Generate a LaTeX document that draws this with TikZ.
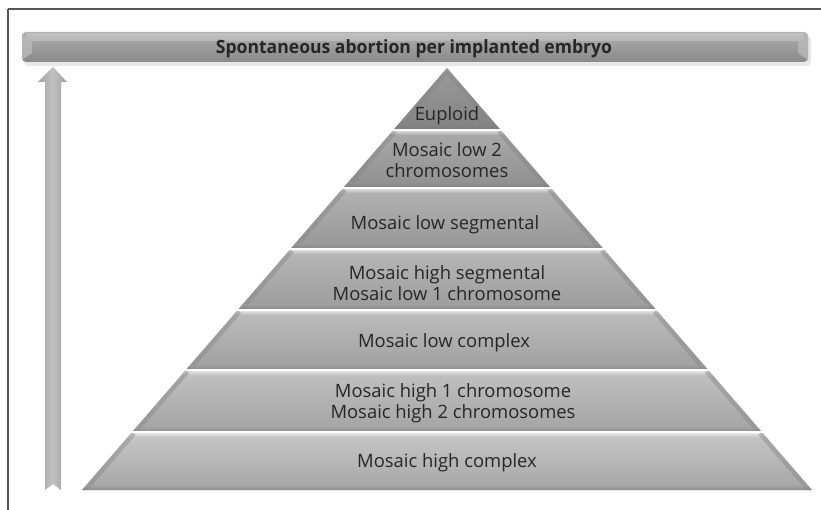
\documentclass[tikz,border=0pt]{standalone}
\usepackage{fontspec}
\setmainfont{Open Sans}
\newfontfamily\titlefont[FakeStretch=0.96]{Open Sans}
\definecolor{txt}{HTML}{262626}
\definecolor{framec}{HTML}{555555}
\tikzset{
  bandtext/.style={text=txt, align=center, font=\fontsize{18.4}{20.5}\selectfont, inner sep=0pt},
  titletext/.style={text=txt, font=\titlefont\fontsize{18.3}{20}\selectfont\bfseries, inner sep=0pt},
}
\begin{document}
\begin{tikzpicture}[x=1pt,y=-1pt]
\useasboundingbox (0,0) rectangle (821,510);
% frame
\draw[framec, line width=1.2pt] (8,9) -- (822,9);
\draw[framec, line width=1.2pt] (8,9) -- (8,511);
% title bar
\fill[gray!30, opacity=0.6, rounded corners=4pt] (24,36) rectangle (811,66);
\shade[rounded corners=4pt, top color=gray!62, bottom color=gray!92, middle color=gray!78] (22,32) rectangle (808,62);
\fill[white, opacity=0.22] (26,33) -- (804,33) -- (804,41) -- (26,41) -- cycle;
\fill[gray!55, opacity=0.8] (22,34) -- (32,42) -- (32,53) -- (22,60) -- cycle;
\fill[gray!55, opacity=0.8] (808,34) -- (798,42) -- (798,53) -- (808,60) -- cycle;
\node[titletext] (title) at (414,49) {Spontaneous abortion per implanted embryo};
% arrow
\shade[left color=gray!72, right color=gray!78, middle color=gray!48]
  (45,490) -- (45,82) -- (38,82) -- (53,67) -- (67,82) -- (61,82) -- (61,490) -- (53,484) -- cycle;
% pyramid bands
\foreach \t/\b/\ct/\cb in {68/130/78/98, 130/188/66/88, 188/249/60/82, 249/310/56/78, 310/370/52/75, 370/432/48/72, 432/490/44/70} {
  \pgfmathsetmacro\lt{447-0.86493*(\t-68)}
  \pgfmathsetmacro\rt{447+0.86493*(\t-68)}
  \pgfmathsetmacro\lb{447-0.86493*(\b-68)}
  \pgfmathsetmacro\rb{447+0.86493*(\b-68)}
  \pgfmathsetmacro\th{\t+5}
  \pgfmathsetmacro\bh{\b-5}
  \begin{scope}
    \clip (\lt,\t) -- (\rt,\t) -- (\rb,\b) -- (\lb,\b) -- cycle;
    \shade[top color=gray!\ct, bottom color=gray!\cb] (\lb,\t) rectangle (\rb,\b);
    \shade[top color=white, bottom color=gray!\ct, opacity=0.7] (\lb,\t) rectangle (\rb,\th);
    \draw[gray!95, line width=9pt, opacity=0.45] (\lt,\t) -- (\lb,\b);
    \draw[gray!95, line width=9pt, opacity=0.45] (\rt,\t) -- (\rb,\b);
    \shade[top color=gray!\cb, bottom color=gray!110, opacity=0.45] (\lb,\bh) rectangle (\rb,\b);
  \end{scope}
}
\foreach \y in {130,188,249,310,370,432} {
  \draw[white, line width=1.3pt] (78,\y) -- (816,\y);
}
% band texts
\node[bandtext] (b1) at (447,116) {Euploid};
\node[bandtext] (b2) at (447,160) {Mosaic low 2\\chromosomes};
\node[bandtext] (b3) at (445,225) {Mosaic low segmental};
\node[bandtext] (b4) at (447,283) {Mosaic high segmental\\Mosaic low 1 chromosome};
\node[bandtext] (b5) at (444,343) {Mosaic low complex};
\node[bandtext] (b6) at (453,403) {Mosaic high 1 chromosome\\Mosaic high 2 chromosomes};
\node[bandtext] (b7) at (447,463) {Mosaic high complex};
\end{tikzpicture}
\end{document}
